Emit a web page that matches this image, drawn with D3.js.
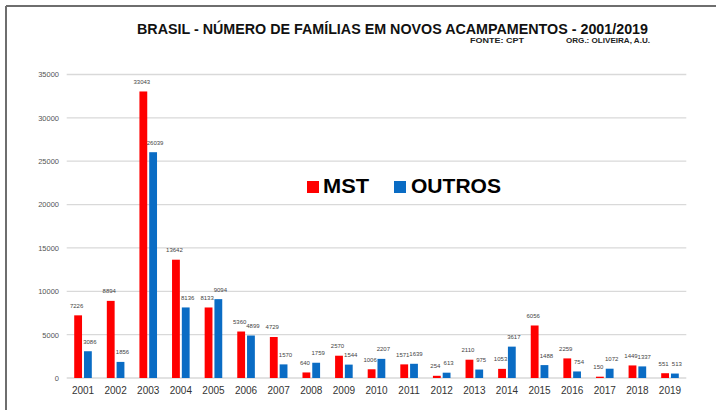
<!DOCTYPE html>
<html><head><meta charset="utf-8">
<script src="https://cdn.jsdelivr.net/npm/d3@7"></script>
<style>body{margin:0;background:#fff;}svg{display:block;font-family:"Liberation Sans",Arial,sans-serif;}</style>
</head><body>
<svg id="c" width="716" height="410"></svg>
<script>
const years = ["2001","2002","2003","2004","2005","2006","2007","2008","2009","2010","2011","2012","2013","2014","2015","2016","2017","2018","2019"];
const mst = [7226,8894,33043,13642,8133,5360,4729,640,2570,1006,1571,254,2110,1053,6056,2259,150,1449,551];
const outros = [3086,1856,26039,8136,9094,4899,1570,1759,1544,2207,1639,613,975,3617,1488,754,1072,1337,513];
const seriesNames = ["MST","OUTROS"];
const seriesColors = ["#ff0000","#0a6cc4"];
const yTicks = [0,5000,10000,15000,20000,25000,30000,35000];

const svg = d3.select("#c");
// frame
svg.append("line").attr("x1",6).attr("x2",716).attr("y1",6).attr("y2",6).attr("stroke","#6e6e6e").attr("stroke-width",2);
svg.append("line").attr("x1",6).attr("x2",6).attr("y1",6).attr("y2",410).attr("stroke","#6e6e6e").attr("stroke-width",2);

const x0 = d3.scaleBand().domain(years).range([66.7,686.3]);
const bw = x0.bandwidth();
const x1 = d3.scaleBand().domain(seriesNames).range([bw/2-8.8, bw/2+8.8]).paddingInner(0.2);
const y = d3.scaleLinear().domain([0,35000]).range([378,74.5]);

// grid
svg.append("g").selectAll("line").data(yTicks).join("line")
  .attr("x1",66.7).attr("x2",686.3).attr("y1",d=>y(d)).attr("y2",d=>y(d))
  .attr("stroke","#d9d9d9").attr("stroke-width",1.3);

// y axis
const yAxis = svg.append("g").attr("transform","translate(59,0)")
  .call(d3.axisLeft(y).tickValues(yTicks).tickSize(0).tickPadding(0).tickFormat(d3.format("d")));
yAxis.select(".domain").remove();
yAxis.selectAll("text").attr("font-size",7.5).attr("fill","#555").attr("font-family","Liberation Sans, Arial, sans-serif");

// x axis
const xAxis = svg.append("g").attr("transform","translate(0,378)")
  .call(d3.axisBottom(x0).tickSize(0).tickPadding(9));
xAxis.select(".domain").remove();
xAxis.selectAll("text").attr("font-size",10).attr("fill","#333").attr("font-family","Liberation Sans, Arial, sans-serif");

const rows = years.map((yr,i)=>({year:yr, vals:[{k:"MST",v:mst[i],c:seriesColors[0],dx:-1.5},{k:"OUTROS",v:outros[i],c:seriesColors[1],dx:2}]}));
const g = svg.append("g").selectAll("g").data(rows).join("g").attr("transform",d=>`translate(${x0(d.year)},0)`);
g.selectAll("rect").data(d=>d.vals).join("rect")
  .attr("x",d=>x1(d.k)).attr("width",x1.bandwidth())
  .attr("y",d=>y(d.v)).attr("height",d=>y(0)-y(d.v)).attr("fill",d=>d.c);
g.selectAll("text").data(d=>d.vals).join("text")
  .attr("x",d=>x1(d.k)+x1.bandwidth()/2+d.dx).attr("y",d=>y(d.v)-7.5)
  .attr("text-anchor","middle").attr("font-size",6).attr("fill","#444")
  .text(d=>d.v);

// title
svg.append("text").attr("x",137).attr("y",34).attr("font-size",14).attr("font-weight","bold").attr("fill","#111")
  .attr("textLength",511).attr("lengthAdjust","spacingAndGlyphs")
  .text("BRASIL - NÚMERO DE FAMÍLIAS EM NOVOS ACAMPAMENTOS - 2001/2019");
svg.append("text").attr("x",470).attr("y",43).attr("font-size",6.5).attr("font-weight","bold").attr("fill","#222")
  .attr("textLength",54).attr("lengthAdjust","spacingAndGlyphs").text("FONTE: CPT");
svg.append("text").attr("x",566).attr("y",43).attr("font-size",6.5).attr("font-weight","bold").attr("fill","#222")
  .attr("textLength",84).attr("lengthAdjust","spacingAndGlyphs").text("ORG.: OLIVEIRA, A.U.");

// legend
const leg = [{x:307,tx:323,w:46},{x:394,tx:411,w:90}];
seriesNames.forEach((s,i)=>{
  svg.append("rect").attr("x",leg[i].x).attr("y",181).attr("width",12).attr("height",12).attr("fill",seriesColors[i]);
  svg.append("text").attr("x",leg[i].tx).attr("y",192.5).attr("font-size",21).attr("font-weight","bold").attr("fill","#000")
    .attr("textLength",leg[i].w).attr("lengthAdjust","spacingAndGlyphs").text(s);
});
</script>
</body></html>
